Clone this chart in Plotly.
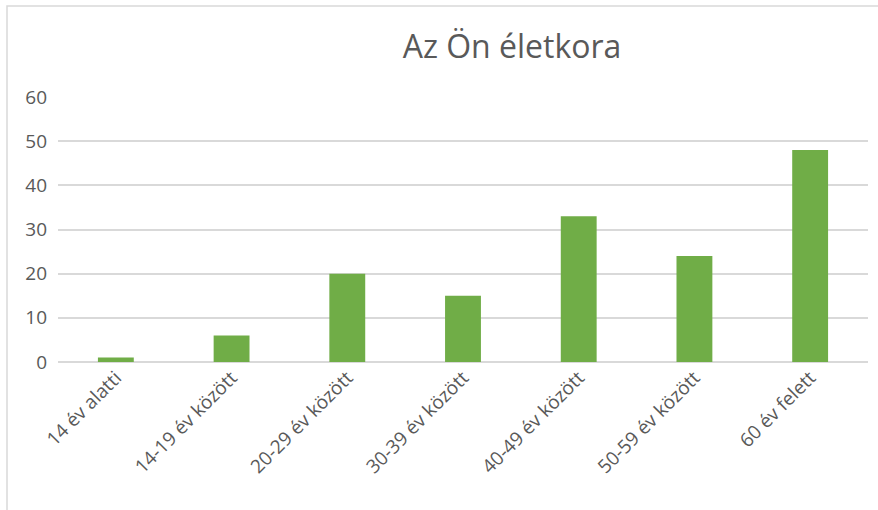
import plotly.graph_objects as go

categories = ["14 év alatti", "14-19 év között", "20-29 év között", "30-39 év között",
              "40-49 év között", "50-59 év között", "60 év felett"]
values = [1, 6, 20, 15, 33, 24, 48]
y_ticks = [0, 10, 20, 30, 40, 50, 60]

W, H = 878, 510
L, R, T, B = 58, 10, 97, 148

fig = go.Figure(go.Bar(x=categories, y=values, marker_color="#70AD47",
                       marker_line_width=0))

fig.update_layout(
    width=W, height=H,
    margin=dict(l=L, r=R, t=T, b=B, autoexpand=False),
    paper_bgcolor="white", plot_bgcolor="white",
    bargap=0.69,
    showlegend=False,
    font=dict(family="Open Sans, Noto Sans, sans-serif", color="#595959", size=19),
    title=dict(text="Az Ön életkora", x=512 / W, xref="container", xanchor="center",
               y=1 - 47 / H, yref="container", yanchor="middle",
               font=dict(size=32, color="#595959")),
)
fig.update_xaxes(tickangle=-45, showgrid=False, showline=False, ticks="",
                 tickfont=dict(size=19, color="#595959"))
fig.update_yaxes(range=[0, 60], tickvals=y_ticks, showgrid=True, gridcolor="#D9D9D9",
                 gridwidth=1.5, zeroline=True, zerolinecolor="#D9D9D9", zerolinewidth=1.5,
                 showline=False, ticks="", ticklabelstandoff=10,
                 tickfont=dict(size=19, color="#595959"))

# outer chart border (extends beyond the visible area to right and bottom)
fig.add_shape(type="rect", xref="paper", yref="paper",
              x0=(7 - L) / (W - L - R), x1=(W + 20 - L) / (W - L - R),
              y0=-(B + 20) / (H - T - B), y1=1 + (T - 6) / (H - T - B),
              line=dict(color="#D9D9D9", width=1.5), layer="below")

fig.write_html("out.html", config={"displayModeBar": False},
               post_script="document.body.style.margin='0';document.body.style.overflow='hidden';")
